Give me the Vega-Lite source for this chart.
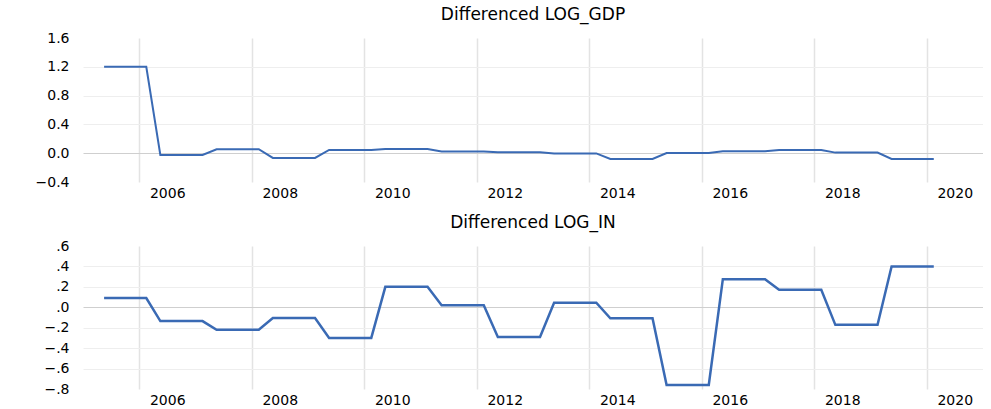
{
  "$schema": "https://vega.github.io/schema/vega-lite/v6.json",
  "background": "white",
  "padding": {"left": 35, "top": 6, "right": 0, "bottom": 0},
  "spacing": 14,
  "config": {
    "view": {"stroke": null},
    "font": "DejaVu Sans",
    "title": {"fontSize": 17, "fontWeight": "normal", "color": "#000000", "offset": 7, "anchor": "middle", "font": "DejaVu Sans"},
    "axis": {"domain": false, "ticks": false, "tickSize": 0, "labelFont": "DejaVu Sans", "labelFontSize": 14, "labelColor": "#000000", "title": null}
  },
  "data": {"values": [
    {"t": 2005.375, "gdp": 1.2, "inv": 0.09}, {"t": 2005.625, "gdp": 1.2, "inv": 0.09}, {"t": 2005.875, "gdp": 1.2, "inv": 0.09}, {"t": 2006.125, "gdp": 1.2, "inv": 0.09},
    {"t": 2006.375, "gdp": -0.025, "inv": -0.135}, {"t": 2006.625, "gdp": -0.025, "inv": -0.135}, {"t": 2006.875, "gdp": -0.025, "inv": -0.135}, {"t": 2007.125, "gdp": -0.025, "inv": -0.135},
    {"t": 2007.375, "gdp": 0.055, "inv": -0.22}, {"t": 2007.625, "gdp": 0.055, "inv": -0.22}, {"t": 2007.875, "gdp": 0.055, "inv": -0.22}, {"t": 2008.125, "gdp": 0.055, "inv": -0.22},
    {"t": 2008.375, "gdp": -0.065, "inv": -0.105}, {"t": 2008.625, "gdp": -0.065, "inv": -0.105}, {"t": 2008.875, "gdp": -0.065, "inv": -0.105}, {"t": 2009.125, "gdp": -0.065, "inv": -0.105},
    {"t": 2009.375, "gdp": 0.045, "inv": -0.3}, {"t": 2009.625, "gdp": 0.045, "inv": -0.3}, {"t": 2009.875, "gdp": 0.045, "inv": -0.3}, {"t": 2010.125, "gdp": 0.045, "inv": -0.3},
    {"t": 2010.375, "gdp": 0.058, "inv": 0.2}, {"t": 2010.625, "gdp": 0.058, "inv": 0.2}, {"t": 2010.875, "gdp": 0.058, "inv": 0.2}, {"t": 2011.125, "gdp": 0.058, "inv": 0.2},
    {"t": 2011.375, "gdp": 0.025, "inv": 0.02}, {"t": 2011.625, "gdp": 0.025, "inv": 0.02}, {"t": 2011.875, "gdp": 0.025, "inv": 0.02}, {"t": 2012.125, "gdp": 0.025, "inv": 0.02},
    {"t": 2012.375, "gdp": 0.012, "inv": -0.29}, {"t": 2012.625, "gdp": 0.012, "inv": -0.29}, {"t": 2012.875, "gdp": 0.012, "inv": -0.29}, {"t": 2013.125, "gdp": 0.012, "inv": -0.29},
    {"t": 2013.375, "gdp": -0.003, "inv": 0.045}, {"t": 2013.625, "gdp": -0.003, "inv": 0.045}, {"t": 2013.875, "gdp": -0.003, "inv": 0.045}, {"t": 2014.125, "gdp": -0.003, "inv": 0.045},
    {"t": 2014.375, "gdp": -0.08, "inv": -0.108}, {"t": 2014.625, "gdp": -0.08, "inv": -0.108}, {"t": 2014.875, "gdp": -0.08, "inv": -0.108}, {"t": 2015.125, "gdp": -0.08, "inv": -0.108},
    {"t": 2015.375, "gdp": 0.003, "inv": -0.76}, {"t": 2015.625, "gdp": 0.003, "inv": -0.76}, {"t": 2015.875, "gdp": 0.003, "inv": -0.76}, {"t": 2016.125, "gdp": 0.003, "inv": -0.76},
    {"t": 2016.375, "gdp": 0.028, "inv": 0.275}, {"t": 2016.625, "gdp": 0.028, "inv": 0.275}, {"t": 2016.875, "gdp": 0.028, "inv": 0.275}, {"t": 2017.125, "gdp": 0.028, "inv": 0.275},
    {"t": 2017.375, "gdp": 0.045, "inv": 0.172}, {"t": 2017.625, "gdp": 0.045, "inv": 0.172}, {"t": 2017.875, "gdp": 0.045, "inv": 0.172}, {"t": 2018.125, "gdp": 0.045, "inv": 0.172},
    {"t": 2018.375, "gdp": 0.008, "inv": -0.172}, {"t": 2018.625, "gdp": 0.008, "inv": -0.172}, {"t": 2018.875, "gdp": 0.008, "inv": -0.172}, {"t": 2019.125, "gdp": 0.008, "inv": -0.172},
    {"t": 2019.375, "gdp": -0.08, "inv": 0.4}, {"t": 2019.625, "gdp": -0.08, "inv": 0.4}, {"t": 2019.875, "gdp": -0.08, "inv": 0.4}, {"t": 2020.125, "gdp": -0.08, "inv": 0.4}
  ]},
  "vconcat": [
    {
      "title": "Differenced LOG_GDP",
      "width": 900,
      "height": 144,
      "mark": {"type": "line", "color": "#3a6ab4", "strokeWidth": 2, "strokeJoin": "miter"},
      "encoding": {
        "x": {"field": "t", "type": "quantitative",
              "scale": {"domain": [2005, 2021], "nice": false, "zero": false},
              "axis": {"values": [2006, 2008, 2010, 2012, 2014, 2016, 2018, 2020], "format": "d", "labelOffset": 28, "labelPadding": 4, "labelFlush": false,
                       "grid": true, "gridColor": "#e3e3e3", "gridWidth": 1.5}},
        "y": {"field": "gdp", "type": "quantitative",
              "scale": {"domain": [-0.4, 1.6], "nice": false, "zero": false},
              "axis": {"values": [-0.4, 0, 0.4, 0.8, 1.2, 1.6], "format": ".1f", "labelPadding": 14,
                       "grid": true, "gridWidth": 1,
                       "gridColor": {"condition": {"test": "datum.value === 0", "value": "#cfcfcf"}, "value": "#eeeeee"},
                       "gridOpacity": {"condition": {"test": "datum.value === 1.6 || datum.value === -0.4", "value": 0}, "value": 1}}}
      }
    },
    {
      "title": "Differenced LOG_IN",
      "width": 900,
      "height": 143,
      "mark": {"type": "line", "color": "#3a6ab4", "strokeWidth": 2.5, "strokeJoin": "miter"},
      "encoding": {
        "x": {"field": "t", "type": "quantitative",
              "scale": {"domain": [2005, 2021], "nice": false, "zero": false},
              "axis": {"values": [2006, 2008, 2010, 2012, 2014, 2016, 2018, 2020], "format": "d", "labelOffset": 28, "labelPadding": 4, "labelFlush": false,
                       "grid": true, "gridColor": "#e3e3e3", "gridWidth": 1.5}},
        "y": {"field": "inv", "type": "quantitative",
              "scale": {"domain": [-0.8, 0.6], "nice": false, "zero": false},
              "axis": {"values": [-0.8, -0.6, -0.4, -0.2, 0, 0.2, 0.4, 0.6],
                       "labelExpr": "replace(format(datum.value, '.1f'), '0.', '.')", "labelPadding": 14,
                       "grid": true, "gridWidth": 1,
                       "gridColor": {"condition": {"test": "datum.value === 0", "value": "#cfcfcf"}, "value": "#eeeeee"},
                       "gridOpacity": {"condition": {"test": "datum.value === 0.6 || datum.value === -0.8", "value": 0}, "value": 1}}}
      }
    }
  ]
}
